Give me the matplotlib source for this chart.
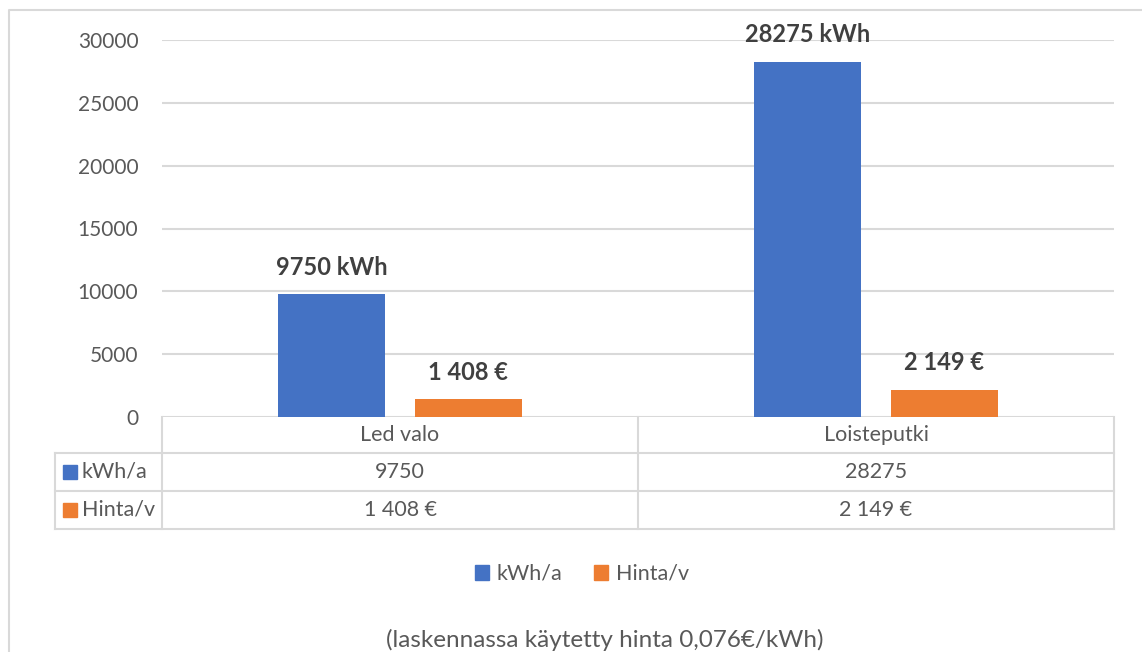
import matplotlib.pyplot as plt
import matplotlib.transforms as mtransforms
from matplotlib.lines import Line2D
from matplotlib.patches import Rectangle, Patch

categories = ['Led valo', 'Loisteputki']
series_names = ['kWh/a', 'Hinta/v']
kwh = [9750, 28275]
price = [1408, 2149]
kwh_labels = ['9750 kWh', '28275 kWh']
price_labels = ['1 408 €', '2 149 €']
table_kwh = ['9750', '28275']
table_price = ['1 408 €', '2 149 €']
yticks = [0, 5000, 10000, 15000, 20000, 25000, 30000]
note = '(laskennassa käytetty hinta 0,076€/kWh)'

BLUE = '#4472c4'
ORANGE = '#ed7d31'
GRID = '#d9d9d9'
TXT = '#595959'
FS = 15.5

plt.rcParams['font.family'] = ['Lato', 'DejaVu Sans']

W, H = 1142, 652
fig = plt.figure(figsize=(W / 100, H / 100), dpi=100)


def fx(x):
    return x / W


def fy(y):
    return 1 - y / H


# plot area in pixels
left, right, top, bottom = 162, 1114, 40, 417
ax = fig.add_axes([fx(left), fy(bottom), fx(right) - fx(left), fy(top) - fy(bottom)])

x = list(range(len(categories)))
bw = 0.225
off = 0.143
b1 = ax.bar([i - off for i in x], kwh, bw, color=BLUE, zorder=3)
b2 = ax.bar([i + off for i in x], price, bw, color=ORANGE, zorder=3)

for bars, labels in ((b1, kwh_labels), (b2, price_labels)):
    for r, lab in zip(bars, labels):
        ax.annotate(lab, (r.get_x() + r.get_width() / 2, r.get_height()),
                    xytext=(0, 27), textcoords='offset pixels',
                    ha='center', va='center', fontsize=17, fontweight='bold',
                    color='#404040', annotation_clip=False)

ax.set_xlim(-0.5, len(categories) - 0.5)
ax.set_ylim(0, 30000)
ax.set_yticks(yticks)
ax.set_yticklabels([str(t) for t in yticks], fontsize=15, color=TXT)
ax.set_xticks([])
ax.tick_params(axis='y', length=0, pad=17)
ax.grid(axis='y', color=GRID, linewidth=1.5, zorder=0)
for s in ax.spines.values():
    s.set_visible(False)

# data table under the axes
def fline(xs, ys):
    fig.add_artist(Line2D([fx(v) for v in xs], [fy(v) for v in ys],
                          color=GRID, linewidth=1.5, transform=fig.transFigure))

tleft, tmid = 55, 638
rows = [417, 453, 491, 529]
for y in rows[1:]:
    fline([tleft, right], [y, y])
for xv in (left, tmid, right):
    fline([xv, xv], [rows[0], rows[-1]])
fline([tleft, tleft], [rows[1], rows[-1]])

blend = mtransforms.blended_transform_factory(ax.transData, fig.transFigure)
ycen = [(rows[k] + rows[k + 1]) / 2 for k in range(3)]
for i, cat in enumerate(categories):
    for yc, val in zip(ycen, [cat, table_kwh[i], table_price[i]]):
        fig.text(i, fy(yc), val, transform=blend, ha='center', va='center',
                 fontsize=FS, color=TXT)

for k, (name, col) in enumerate(zip(series_names, [BLUE, ORANGE])):
    yc = ycen[k + 1]
    fig.add_artist(Rectangle((fx(63), fy(yc + 7)), fx(14), 14 / H,
                             color=col, transform=fig.transFigure))
    fig.text(fx(82), fy(yc), name, ha='left', va='center', fontsize=FS, color=TXT)

# legend
handles = [Patch(color=BLUE, label=series_names[0]), Patch(color=ORANGE, label=series_names[1])]
fig.legend(handles=handles, loc='center', bbox_to_anchor=(fx(582), fy(574)), ncol=2,
           frameon=False, fontsize=FS, labelcolor=TXT, handlelength=0.65,
           handleheight=0.65, handletextpad=0.35, columnspacing=1.5)

fig.text(fx(605), fy(640), note, ha='center', va='center', fontsize=17.5, color=TXT)

# chart border
fig.add_artist(Line2D([fx(9), fx(9), 1], [0, fy(10), fy(10)], color=GRID,
                      linewidth=1.5, transform=fig.transFigure))

fig.savefig('out.png', dpi=100)
